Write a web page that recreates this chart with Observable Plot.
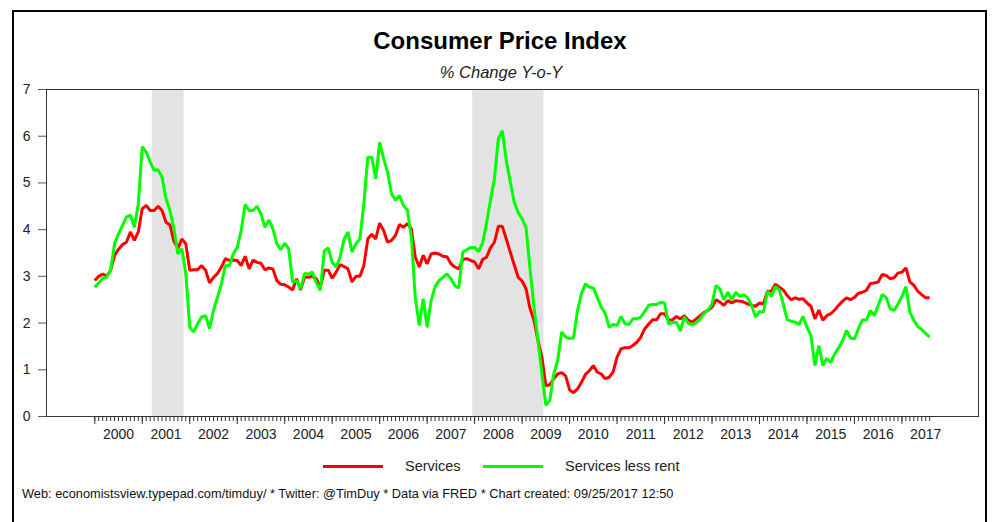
<!DOCTYPE html>
<html>
<head>
<meta charset="utf-8">
<script src="https://cdn.jsdelivr.net/npm/d3@7"></script>
<script src="https://cdn.jsdelivr.net/npm/@observablehq/plot@0.6"></script>
<style>
  html, body { margin: 0; padding: 0; background: #fff; overflow: hidden; }
  #wrap { position: relative; width: 993px; height: 522px; font-family: "Liberation Sans", Arial, Helvetica, sans-serif; color: #222; }
  #border { position: absolute; left: 12px; top: 10px; width: 975px; height: 600px; border: 2px solid #000; box-sizing: border-box; }
  #chart { position: absolute; left: 0; top: 0; }
  #title { position: absolute; left: 0; width: 1000px; top: 27px; text-align: center; font-weight: bold; font-size: 24px; color: #000; }
  #subtitle { position: absolute; left: 0; width: 1002px; top: 63px; text-align: center; font-style: italic; font-size: 16.5px; color: #222; }
  .leg-line { position: absolute; height: 3px; top: 465px; }
  .leg-text { position: absolute; top: 458px; font-size: 14.5px; color: #222; }
  #caption { position: absolute; left: 22px; top: 486px; font-size: 12.8px; color: #111; white-space: nowrap; }
</style>
</head>
<body>
<div id="wrap">
  <div id="border"></div>
  <div id="chart"></div>
  <div id="title">Consumer Price Index</div>
  <div id="subtitle">% Change Y-o-Y</div>
  <div class="leg-line" style="left:323px;width:60px;background:#ff0000"></div>
  <div class="leg-text" style="left:405px">Services</div>
  <div class="leg-line" style="left:483px;width:60px;background:#00ff00"></div>
  <div class="leg-text" style="left:565px">Services less rent</div>
  <div id="caption">Web: economistsview.typepad.com/timduy/ * Twitter: @TimDuy * Data via FRED * Chart created: 09/25/2017 12:50</div>
</div>
<script>
// Monthly data, Jan 2000 .. Aug 2017 (% change year over year)
const startYear = 2000;
const services = [
  2.91,3.00,3.05,3.00,3.13,3.45,3.58,3.68,3.73,3.95,3.77,3.95,
  4.45,4.52,4.41,4.41,4.50,4.41,4.16,4.10,3.75,3.60,3.80,3.70,
  3.13,3.14,3.14,3.23,3.13,2.86,2.98,3.06,3.20,3.38,3.34,3.35,
  3.34,3.23,3.43,3.16,3.35,3.30,3.28,3.14,3.18,3.16,2.91,2.83,
  2.82,2.77,2.71,2.95,2.71,2.98,2.98,3.00,2.95,2.77,3.13,3.13,
  2.96,3.09,3.25,3.21,3.16,2.88,3.00,3.00,3.23,3.80,3.90,3.80,
  4.14,3.98,3.73,3.77,3.88,4.11,4.05,4.13,4.02,3.41,3.20,3.45,
  3.27,3.48,3.50,3.48,3.43,3.42,3.27,3.20,3.16,3.36,3.38,3.34,
  3.31,3.16,3.36,3.41,3.61,3.73,4.07,4.07,3.80,3.52,3.25,2.98,
  2.90,2.73,2.31,2.06,1.63,1.27,0.66,0.68,0.81,0.91,0.94,0.87,
  0.57,0.51,0.59,0.73,0.90,0.98,1.09,0.95,0.91,0.81,0.84,0.95,
  1.27,1.45,1.47,1.47,1.52,1.59,1.70,1.88,1.98,2.07,2.07,2.20,
  2.20,2.06,2.07,2.14,2.09,2.16,2.06,2.02,2.09,2.16,2.23,2.27,
  2.34,2.50,2.45,2.38,2.48,2.43,2.48,2.47,2.45,2.41,2.38,2.36,
  2.43,2.41,2.68,2.68,2.83,2.77,2.71,2.59,2.50,2.54,2.51,2.52,
  2.43,2.36,2.09,2.28,2.06,2.16,2.20,2.28,2.38,2.47,2.54,2.50,
  2.55,2.64,2.66,2.70,2.84,2.86,2.88,3.04,3.02,2.95,2.97,3.07,
  3.09,3.18,2.88,2.81,2.68,2.61,2.54,2.54
];
const servicesLessRent = [
  2.77,2.86,2.96,2.98,3.13,3.70,3.91,4.09,4.27,4.31,4.05,4.55,
  5.78,5.66,5.45,5.27,5.28,5.12,4.66,4.41,4.02,3.48,3.59,3.06,
  1.91,1.81,1.99,2.13,2.16,1.88,2.27,2.55,2.84,3.23,3.23,3.48,
  3.62,3.98,4.54,4.41,4.41,4.50,4.34,4.05,4.21,4.02,3.70,3.57,
  3.71,3.59,2.88,2.91,2.73,3.06,3.05,3.09,2.86,2.70,3.55,3.61,
  3.30,3.20,3.41,3.80,3.95,3.52,3.70,3.80,4.55,5.55,5.55,5.09,
  5.87,5.52,5.23,4.77,4.63,4.73,4.52,4.42,3.84,2.55,1.95,2.52,
  1.91,2.48,2.78,2.91,2.98,3.05,2.95,2.80,2.75,3.52,3.57,3.62,
  3.62,3.53,3.71,4.13,4.63,5.09,5.95,6.12,5.48,5.02,4.59,4.37,
  4.23,4.04,3.16,2.34,1.63,0.91,0.24,0.34,0.91,1.20,1.81,1.70,
  1.67,1.68,2.27,2.63,2.84,2.77,2.75,2.55,2.34,2.21,1.91,1.97,
  1.95,2.14,1.99,1.97,2.09,2.09,2.13,2.25,2.38,2.40,2.40,2.44,
  2.43,1.98,2.01,2.02,1.83,2.13,1.99,1.97,2.00,2.09,2.21,2.28,
  2.41,2.81,2.73,2.50,2.66,2.50,2.66,2.57,2.61,2.54,2.38,2.13,
  2.25,2.23,2.68,2.57,2.78,2.71,2.41,2.07,2.04,2.02,1.97,2.14,
  1.91,1.73,1.09,1.52,1.09,1.24,1.16,1.34,1.47,1.63,1.84,1.68,
  1.66,1.88,2.07,2.06,2.27,2.16,2.38,2.61,2.55,2.31,2.27,2.41,
  2.57,2.78,2.23,2.06,1.93,1.86,1.78,1.70
];
// Recessions (decimal years)
const recessionStart = [2001.21, 2007.96];
const recessionEnd = [2001.88, 2009.46];
// Axis ticks
const yTicks = [0, 1, 2, 3, 4, 5, 6, 7];
const yearLabels = d3.range(2000, 2018);

const toRows = (arr) => arr.map((v, i) => ({ t: startYear + i / 12, v }));
const servicesRows = toRows(services);
const lessRentRows = toRows(servicesLessRent);
const recessions = recessionStart.map((s, i) => ({ s, e: recessionEnd[i] }));
const monthTicks = services.map((_, i) => startYear + i / 12);
const yearTicks = yearLabels.map(y => y);
const midYearTicks = yearLabels.map(y => y + 0.5);

const chart = Plot.plot({
  width: 993,
  height: 445,
  marginLeft: 46,
  marginRight: 15,
  marginTop: 89,
  marginBottom: 29,
  x: { type: "linear", domain: [1998.983, 2018.612] },
  y: { domain: [0, 7] },
  style: { fontFamily: "'Liberation Sans', Arial, sans-serif", fontSize: "14px", color: "#222", background: "transparent" },
  marks: [
    Plot.rect(recessions, { x1: "s", x2: "e", fill: "#e3e3e3" }),
    Plot.line(servicesRows, { x: "t", y: "v", stroke: "#ff0000", strokeWidth: 3, strokeLinejoin: "miter", strokeLinecap: "butt" }),
    Plot.line(lessRentRows, { x: "t", y: "v", stroke: "#00ff00", strokeWidth: 3, strokeLinejoin: "miter", strokeLinecap: "butt" }),
    Plot.frame({ stroke: "#333", strokeWidth: 1 }),
    Plot.axisY({ ticks: yTicks, tickSize: 8, tickPadding: 8, tickFormat: d => String(d), label: null, stroke: "#555" }),
    Plot.axisX({ ticks: monthTicks, tickSize: 5, tickFormat: () => "", label: null, stroke: "#333" }),
    Plot.axisX({ ticks: yearTicks, tickSize: 8, tickFormat: () => "", label: null, stroke: "#333" }),
    Plot.axisX({ ticks: midYearTicks, tickSize: 0, tickPadding: 13, tickFormat: d => String(Math.floor(d)), label: null })
  ]
});
document.getElementById("chart").appendChild(chart);
</script>
</body>
</html>
